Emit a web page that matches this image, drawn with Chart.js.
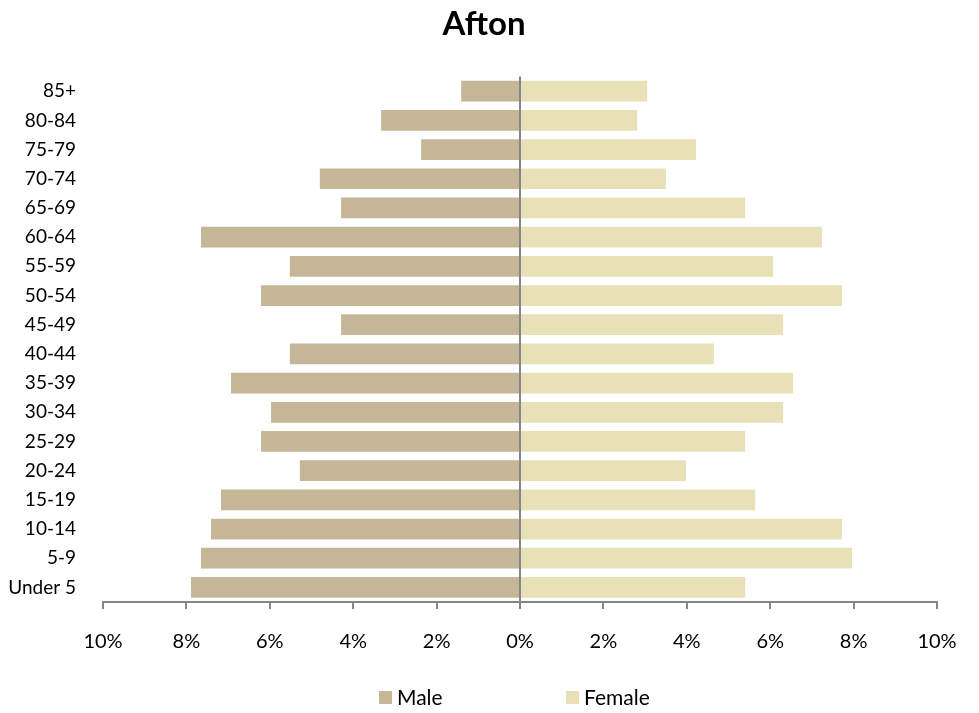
<!DOCTYPE html>
<html>
<head>
<meta charset="utf-8">
<script src="https://cdn.jsdelivr.net/npm/chart.js@4.4.1/dist/chart.umd.min.js"></script>
<style>
  html, body { margin: 0; padding: 0; background: #fff; }
  #wrap { width: 979px; height: 713px; position: relative; }
</style>
</head>
<body>
<div id="wrap"><canvas id="chart"></canvas></div>
<script>
const ageGroups = ["85+", "80-84", "75-79", "70-74", "65-69", "60-64", "55-59", "50-54", "45-49",
  "40-44", "35-39", "30-34", "25-29", "20-24", "15-19", "10-14", "5-9", "Under 5"];
const male = [1.41, 3.33, 2.37, 4.80, 4.29, 7.65, 5.52, 6.21, 4.29,
  5.52, 6.93, 5.97, 6.21, 5.28, 7.17, 7.41, 7.65, 7.89];
const female = [3.05, 2.81, 4.22, 3.50, 5.40, 7.24, 6.07, 7.72, 6.31,
  4.65, 6.55, 6.31, 5.40, 3.98, 5.64, 7.72, 7.96, 5.40];
const xTicks = [-10, -8, -6, -4, -2, 0, 2, 4, 6, 8, 10];

const FONT = "Lato, 'Open Sans', sans-serif";
const AXIS = "#868686";

// legend drawn by hand so the two items can sit far apart like the original
const bottomLegend = {
  id: "bottomLegend",
  afterDraw(chart) {
    const c = chart.ctx;
    const spots = [379, 566];
    c.save();
    c.font = "21px " + FONT;
    c.textBaseline = "middle";
    chart.data.datasets.forEach((ds, i) => {
      const x = spots[i];
      c.fillStyle = ds.backgroundColor;
      c.fillRect(x, 691, 13, 13);
      c.fillStyle = "#000";
      c.fillText(ds.label, x + 18, 698);
    });
    c.restore();
  }
};

new Chart(document.getElementById("chart"), {
  type: "bar",
  data: {
    labels: ageGroups,
    datasets: [
      {
        label: "Male",
        data: male.map(v => -v),
        backgroundColor: "#C4B696",
        barPercentage: 0.71,
        categoryPercentage: 1,
      },
      {
        label: "Female",
        data: female,
        backgroundColor: "#E8E1B8",
        barPercentage: 0.71,
        categoryPercentage: 1,
      },
    ]
  },
  options: {
    indexAxis: "y",
    animation: false,
    responsive: true,
    maintainAspectRatio: false,
    layout: { padding: { left: 0, right: 11, top: 0, bottom: 38 } },
    plugins: {
      legend: { display: false },
      tooltip: { enabled: false },
      title: {
        display: true,
        text: "Afton",
        color: "#000",
        font: { family: FONT, size: 33, weight: "bold" },
        padding: { top: 5, bottom: 32 },
      },
    },
    scales: {
      x: {
        stacked: true,
        min: -10,
        max: 10,
        z: 1,
        afterBuildTicks: (scale) => { scale.ticks = xTicks.map(v => ({ value: v })); },
        afterFit: (scale) => { scale.paddingRight = 42; },
        ticks: {
          callback: (v) => `${Math.abs(v)}%`,
          color: "#000",
          font: { family: FONT, size: 20 },
          padding: 21,
          maxRotation: 0,
        },
        grid: {
          drawOnChartArea: true,
          color: (ctx) => (ctx.tick && ctx.tick.value === 0 ? AXIS : "rgba(0,0,0,0)"),
          tickColor: AXIS,
          tickLength: 7,
          lineWidth: 2,
        },
        border: { display: true, color: AXIS, width: 2 },
      },
      y: {
        stacked: true,
        afterFit: (scale) => { scale.width = 103; },
        ticks: {
          color: "#000",
          font: { family: FONT, size: 19 },
          padding: 27,
        },
        grid: { display: false, drawTicks: false },
        border: { display: false },
      },
    },
  },
  plugins: [bottomLegend],
});
</script>
</body>
</html>
